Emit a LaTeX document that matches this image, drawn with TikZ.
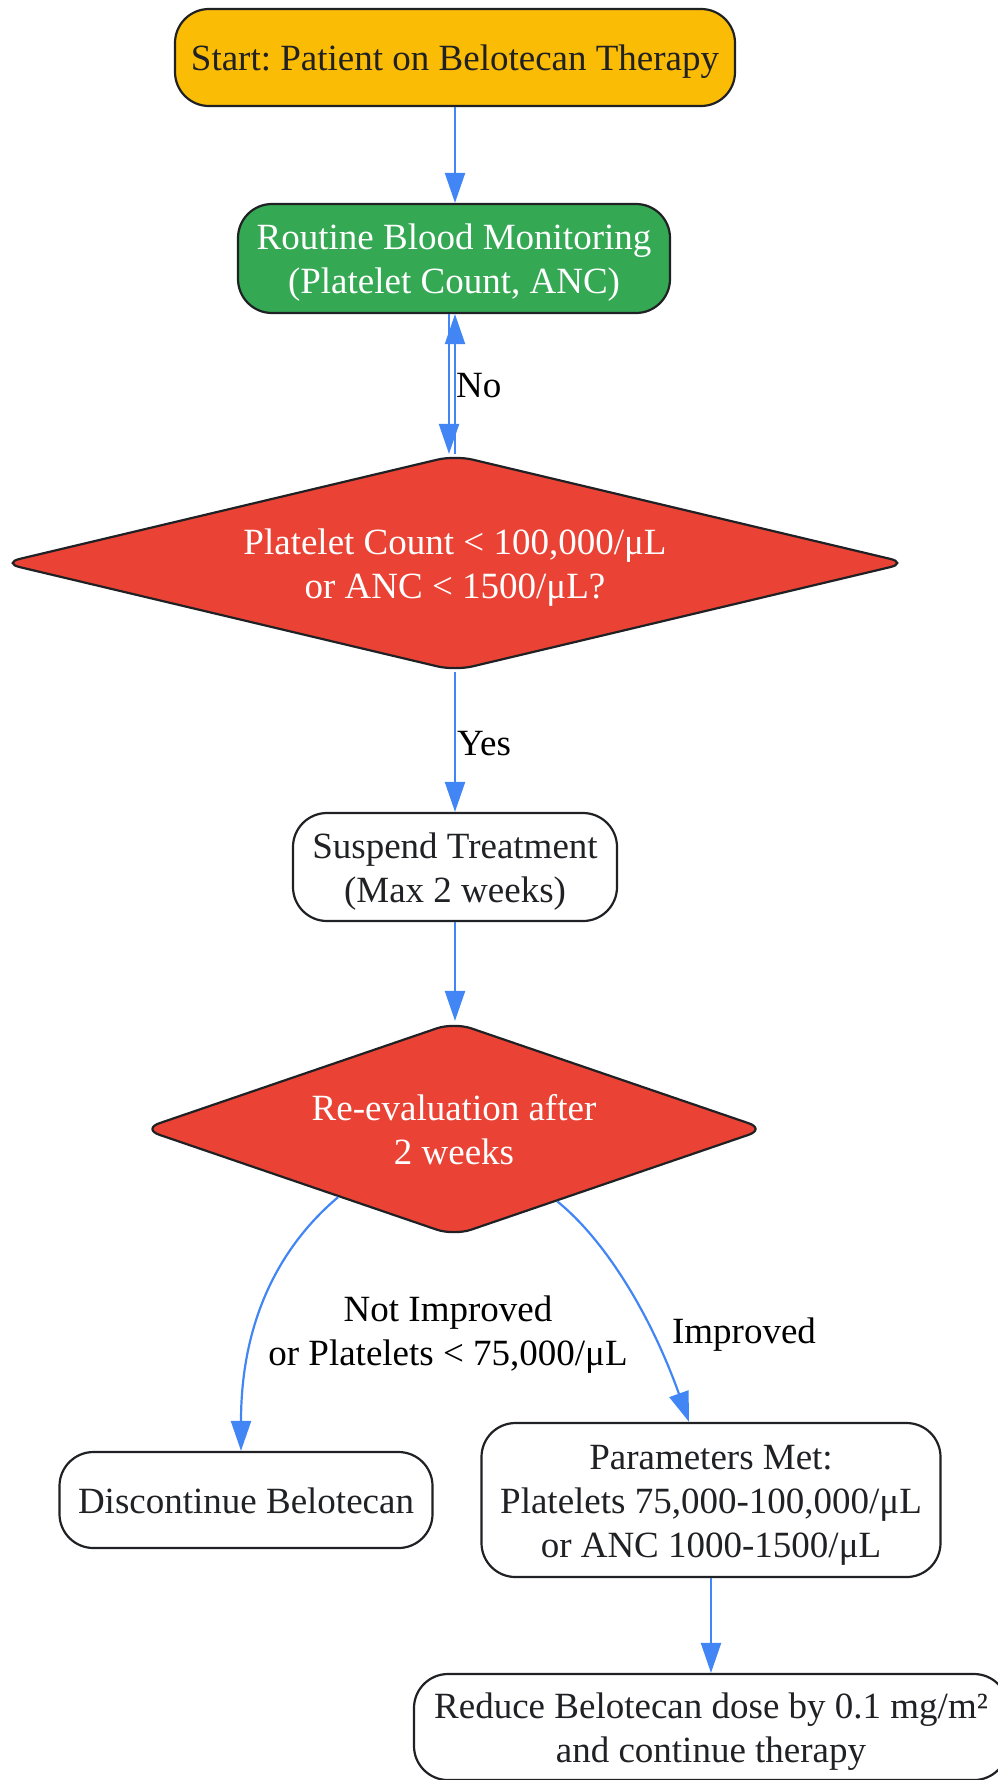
\documentclass[tikz,border=0pt]{standalone}
\usepackage{fontspec}
\setmainfont{Liberation Serif}
\usetikzlibrary{shapes.geometric,arrows.meta,calc}
\definecolor{gyellow}{HTML}{FBBC05}
\definecolor{ggreen}{HTML}{34A853}
\definecolor{gred}{HTML}{EA4335}
\definecolor{gblue}{HTML}{4285F4}
\definecolor{ink}{HTML}{202124}
\frenchspacing
\newcommand\sx{\rule[-7pt]{0pt}{41pt}}
\begin{document}
\begin{tikzpicture}[x=1pt,y=-1pt,
 box/.style={draw=ink,line width=2.2pt,rounded corners=34pt,align=center,inner sep=0pt,font=\fontsize{37}{44}\selectfont,text=ink},
 dec/.style={diamond,draw=ink,fill=gred,line width=2.2pt,rounded corners=18pt,align=center,inner sep=0pt,text=white,font=\fontsize{37}{44}\selectfont},
 arr/.style={draw=gblue,line width=2.2pt,-{Triangle[length=30pt,width=20pt]}},
 lbl/.style={font=\fontsize{37}{44}\selectfont,text=black,align=center,inner sep=0pt}]
\useasboundingbox (0,0) rectangle (998,1780);
\node[box,fill=gyellow,minimum width=560pt,minimum height=97pt] (start) at (455,57.5) {\sx Start: Patient on Belotecan Therapy};
\node[box,fill=ggreen,text=white,minimum width=432pt,minimum height=109pt] (mon) at (454,258.5) {\sx Routine Blood Monitoring\\\sx (Platelet Count, ANC)};
\node[dec,aspect=4.2,minimum width=906pt,minimum height=216pt] (d1) at (455,563) {\sx Platelet Count < 100,000/μL\\\sx or ANC < 1500/μL?};
\node[box,minimum width=324pt,minimum height=108pt] (sus) at (455,867) {\sx Suspend Treatment\\\sx (Max 2 weeks)};
\node[dec,aspect=2.9,minimum width=624pt,minimum height=214pt] (d2) at (454,1129) {\sx Re-evaluation after\\\sx 2 weeks};
\node[box,minimum width=373pt,minimum height=96pt] (disc) at (246,1500) {\sx Discontinue Belotecan};
\node[box,minimum width=459pt,minimum height=154pt] (par) at (711,1500) {\sx Parameters Met:\\\sx Platelets 75,000-100,000/μL\\\sx or ANC 1000-1500/μL};
\node[box,minimum width=594pt,minimum height=106pt] (red) at (711,1727) {\sx Reduce Belotecan dose by 0.1 mg/m²\\\sx and continue therapy};
\draw[arr] (start.south) -- (start.south |- mon.north);
\draw[arr] ([xshift=-5pt]mon.south) -- ([xshift=-5pt]mon.south |- d1.north);
\draw[arr] (d1.north) -- (d1.north |- mon.south);
\node[lbl,anchor=west] (lno) at (456,383.5) {\sx No};
\draw[arr] (d1.south) -- (d1.south |- sus.north);
\node[lbl,anchor=west] (lyes) at (457,742) {\sx Yes};
\draw[arr] (sus.south) -- (sus.south |- d2.north);
\draw[arr] ($(d2.south)!0.37!(d2.west)$) .. controls +(-58,49) and +(0,-131) .. ([xshift=-5pt]disc.north);
\draw[arr] ($(d2.south)!0.33!(d2.east)$) .. controls +(47,38) and +(-39,-109) .. ([xshift=-22pt]par.north);
\node[lbl] (lni) at (448,1330.5) {\sx Not Improved\\\sx or Platelets < 75,000/μL};
\node[lbl] (limp) at (744,1330.5) {\sx Improved};
\draw[arr] (par.south) -- (par.south |- red.north);
\end{tikzpicture}
\end{document}
